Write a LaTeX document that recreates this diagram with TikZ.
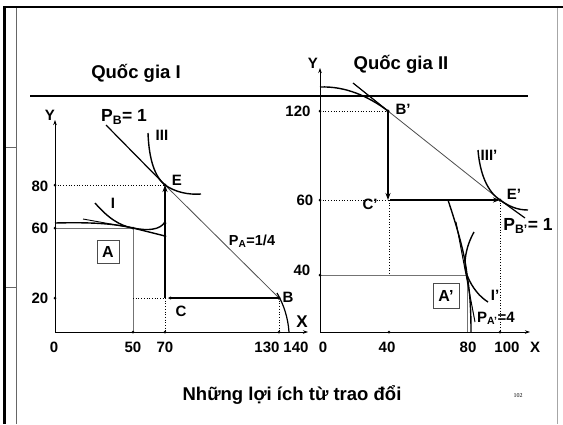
\documentclass[tikz,border=0pt]{standalone}
\usepackage{fontspec}
\setmainfont{Liberation Sans}
\newfontfamily\seriffont{Liberation Serif}
\usetikzlibrary{arrows.meta}
\newcommand{\mysub}[1]{\textsubscript{#1}}
\begin{document}
\begin{tikzpicture}[x=1pt,y=-1pt,
  lbl/.style={font=\bfseries\fontsize{15}{15}\selectfont, inner sep=0pt},
  plbl/.style={font=\bfseries\fontsize{17.5}{17.5}\selectfont, inner sep=0pt},
  big/.style={font=\bfseries\fontsize{18.5}{18.5}\selectfont, inner sep=0pt},
  axis/.style={line width=0.8pt, -{Stealth[length=5pt,width=3.5pt]}},
  dotl/.style={line width=0.7pt, dotted},
  flow/.style={line width=2pt},
  curve/.style={line width=1.4pt},
  pt/.style={circle, fill=black, inner sep=0pt, minimum size=3.5pt},
  rectA/.style={draw=black!55, line width=1pt, fill=white},
  lblbox/.style={draw=black!70, line width=0.8pt, font=\bfseries\fontsize{16}{16}\selectfont, minimum width=22pt, minimum height=23pt, inner sep=0pt},
]
\useasboundingbox (0,0) rectangle (563,424);
% slide frame
\draw[line width=3pt] (4.5,7) -- (4.5,424);
\draw[line width=2pt] (3,7) -- (563,7);
\draw[black!35, line width=0.8pt] (557.5,8) -- (557.5,424);
\draw[black!60, line width=0.6pt] (16,8) -- (16,424);
\draw[black!60, line width=0.6pt] (6,147) -- (16,147);
\draw[black!60, line width=0.6pt] (6,287) -- (16,287);
% separator
\draw[line width=2pt] (30,96) -- (528,96);
% titles
\node[big] (t1) at (136,73) {Quốc gia I};
\node[big] (t2) at (401,64) {Quốc gia II};
\node[big] (t3) at (292,395) {Những lợi ích từ trao đổi};
\node[font=\seriffont\fontsize{6}{6}\selectfont, inner sep=0pt] (pg) at (518,396) {102};

% ===== Country I =====
\coordinate (O1) at (55,332);
\coordinate (Y1) at (55,120);
\coordinate (X1) at (308,332);
\coordinate (E) at (165,185);
\coordinate (B) at (279,298);
\coordinate (C) at (165,298);
\coordinate (Cr) at (168,298);
\coordinate (A) at (133,228);
\draw[rectA] (55,228) rectangle (133,332);
\draw[axis] (O1) -- (Y1);
\draw[axis] (O1) -- (X1);
% dotted guides
\draw[dotl] (55,185) -- (E);
\draw[dotl] (133,298) -- (C);
\draw[dotl] (C) -- (165,332);
\draw[dotl] (B) -- (279,332);
% price line P_B
\draw[line width=1.2pt] (106,125) -- (E);
\draw[line width=0.8pt, black!70] (E) -- (B);
% indifference curve III
\draw[curve] (148,133) .. controls (149,160) and (155,177) .. (E) .. controls (175,192) and (188,195) .. (201,194);
% PPF I
\draw[curve] (55,223) .. controls (95,222) and (115,224) .. (A) -- (165,236);
\draw[line width=0.9pt] (83,219) -- (A);
\draw[curve] (95,203) .. controls (108,218) and (120,226) .. (A) .. controls (148,231) and (160,230) .. (165,222);
\draw[line width=1.2pt] (277,293) .. controls (284,305) and (288,318) .. (289,332);
% trade flows
\draw[flow, -{Stealth[length=7pt,width=5pt]}] (C) -- (E);
\draw[flow, -{Stealth[length=3pt,width=3pt]}] (B) -- (Cr);
% dots
\foreach \p in {(55,185),(55,298),(55,228),(133,332),(165,332),(279,332),(133,228),(165,223),(165,236)}
  \node[pt, minimum size=3pt] at \p {};
\node[pt] (Ed) at (E) {};
\node[pt] (Bd) at (B) {};
% labels
\node[lbl] (y1) at (50,115) {Y};
\node[lbl] (l80) at (40,186) {80};
\node[lbl] (l60) at (40,228) {60};
\node[lbl] (l20) at (40,298) {20};
\node[lbl] (l0) at (54,347) {0};
\node[lbl] (l50) at (133,347) {50};
\node[lbl] (l70) at (165,347) {70};
\node[lbl] (l130) at (267,347) {130};
\node[lbl] (l140) at (296,347) {140};
\node[lbl, font=\bfseries\fontsize{17}{17}\selectfont] (x1) at (302,322) {X};
\node[plbl] (pb) at (124,117) {P\mysub{B}= 1};
\node[lbl] (iii) at (162,135) {III};
\node[lbl] (eL) at (177,180) {E};
\node[lbl] (iL) at (113,203) {I};
\node[lblbox] (aL) at (108,252) {A};
\node[lbl, font=\bfseries\fontsize{14.5}{14.5}\selectfont] (pa) at (252,241) {P\mysub{A}=1/4};
\node[lbl] (cL) at (181,311) {C};
\node[lbl] (bL) at (288,297) {B};

% ===== Country II =====
\coordinate (O2) at (320,332);
\coordinate (Y2) at (320,68);
\coordinate (X2) at (530,332);
\coordinate (Bp) at (388,111);
\coordinate (Cp) at (388,200);
\coordinate (Cpr) at (390,200);
\coordinate (Ep) at (500,200);
\coordinate (Ap) at (467,275);
\draw[rectA] (320,275) rectangle (467,332);
\draw[axis] (O2) -- (Y2);
\draw[axis] (O2) -- (X2);
\draw[dotl] (320,111) -- (Bp);
\draw[dotl] (320,200) -- (Cp);
\draw[dotl] (389,200) -- (389,275);
\draw[dotl] (Ep) -- (500,332);
% price line P_B'
\draw[line width=1.2pt] (353,83) -- (Bp);
\draw[line width=0.8pt, black!70] (Bp) -- (Ep);
\draw[line width=1.2pt] (Ep) -- (525,218);
% PPF II
\draw[curve] (320,87) .. controls (345,86) and (368,96) .. (Bp);
\draw[curve] (448,200) .. controls (458,230) and (465,255) .. (Ap) .. controls (470,292) and (471,310) .. (471,332);
\draw[line width=1pt] (456,222) -- (475,322);
% indifference curves
\draw[curve] (478,150) .. controls (480,175) and (488,192) .. (Ep) .. controls (510,207) and (518,210) .. (528,210);
\draw[curve] (474,232) .. controls (465,248) and (463,266) .. (Ap) .. controls (472,288) and (480,297) .. (488,302);
% trade flows
\draw[flow, -{Stealth[length=7pt,width=5pt]}] (Bp) -- (Cp);
\draw[flow, -{Stealth[length=7pt,width=5pt]}] (Cpr) -- (Ep);
% dots
\foreach \p in {(320,111),(320,200),(320,275),(389,332),(500,332)}
  \node[pt, minimum size=3pt] at \p {};
\node[pt] (Bpd) at (Bp) {};
\node[pt] (Epd) at (Ep) {};
% labels
\node[lbl] (y2) at (313,63) {Y};
\node[lbl] (r120) at (298,111) {120};
\node[lbl] (r60) at (305,200) {60};
\node[lbl] (r40) at (302,270) {40};
\node[lbl] (r0) at (323,347) {0};
\node[lbl] (rx40) at (387,347) {40};
\node[lbl] (rx80) at (468,347) {80};
\node[lbl] (rx100) at (507,347) {100};
\node[lbl] (x2) at (535,347) {X};
\node[lbl] (bpL) at (403,109) {B’};
\node[lbl] (iiip) at (489,155) {III’};
\node[lbl] (epL) at (514,194) {E’};
\node[lbl] (cpL) at (370,204) {C’};
\node[plbl] (pbp) at (528,226) {P\mysub{B’}= 1};
\node[lblbox, minimum width=26pt, minimum height=25pt] (apL) at (446,296) {A’};
\node[lbl] (ip) at (495,295) {I’};
\node[lbl] (pap) at (496,318) {P\mysub{A’}=4};
\end{tikzpicture}
\end{document}
